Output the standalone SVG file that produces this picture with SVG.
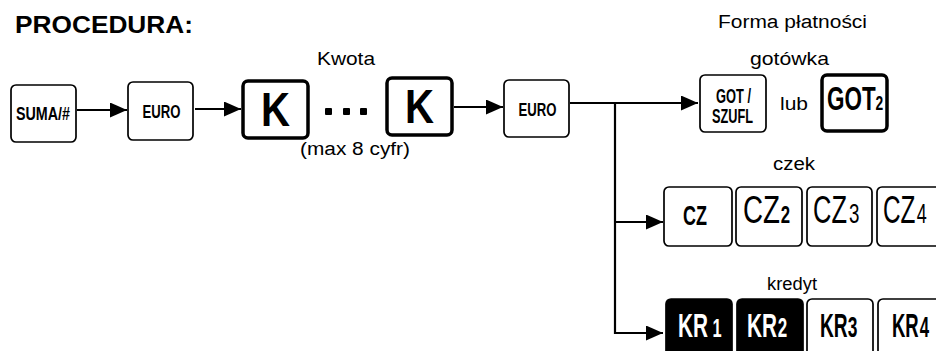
<svg xmlns="http://www.w3.org/2000/svg" width="936" height="351" viewBox="0 0 936 351">
<defs>
<style>
.key{fill:#fff;stroke:#000;stroke-width:1.7}
.thick{fill:#fff;stroke:#000;stroke-width:3.5}
.dark{fill:#000;stroke:#000;stroke-width:1.7}
.kt{font-family:"Liberation Sans",Arial,sans-serif;font-weight:bold;fill:#000}
.kr{font-family:"Liberation Sans",Arial,sans-serif;font-weight:normal;fill:#000}
.wt{font-family:"Liberation Sans",Arial,sans-serif;font-weight:bold;fill:#fff}
.lbl{font-family:"Liberation Sans",Arial,sans-serif;fill:#000}
.ln{fill:none;stroke:#000;stroke-width:2.2}
</style>
<marker id="ah" markerUnits="userSpaceOnUse" markerWidth="17" markerHeight="15" refX="17" refY="7.5" orient="auto">
<path d="M0,0 L17,7.5 L0,15 z" fill="#000"/>
</marker>
</defs>
<rect width="936" height="351" fill="#fff"/>
<text class="lbl" x="15" y="33" font-size="23" font-weight="bold" textLength="178" lengthAdjust="spacingAndGlyphs">PROCEDURA:</text>
<text class="lbl" x="317" y="65" font-size="19" textLength="58" lengthAdjust="spacingAndGlyphs">Kwota</text>
<text class="lbl" x="300" y="155" font-size="18" textLength="110" lengthAdjust="spacingAndGlyphs">(max 8 cyfr)</text>
<text class="lbl" x="718" y="28" font-size="18" textLength="149" lengthAdjust="spacingAndGlyphs">Forma płatności</text>
<text class="lbl" x="750" y="65" font-size="19" textLength="79" lengthAdjust="spacingAndGlyphs">gotówka</text>
<text class="lbl" x="780" y="110" font-size="18" textLength="28" lengthAdjust="spacingAndGlyphs">lub</text>
<text class="lbl" x="773" y="170" font-size="18" textLength="42" lengthAdjust="spacingAndGlyphs">czek</text>
<text class="lbl" x="767" y="290" font-size="18" textLength="50" lengthAdjust="spacingAndGlyphs">kredyt</text>
<g id="connectors">
<line class="ln" x1="77" y1="110" x2="127" y2="110" marker-end="url(#ah)"/>
<line class="ln" x1="195" y1="109" x2="241" y2="109" marker-end="url(#ah)"/>
<line class="ln" x1="454" y1="107" x2="503" y2="107" marker-end="url(#ah)"/>
<line class="ln" x1="570" y1="103" x2="698" y2="103" marker-end="url(#ah)"/>
<polyline class="ln" points="615,103 615,333 663,333" marker-end="url(#ah)"/>
<line class="ln" x1="615" y1="222" x2="663" y2="222" marker-end="url(#ah)"/>
</g>
<g id="dots">
<rect x="325" y="108" width="7" height="7" rx="1"/>
<rect x="343" y="108" width="7" height="7" rx="1"/>
<rect x="360" y="108" width="7" height="7" rx="1"/>
</g>
<g id="suma">
<rect class="key" x="11" y="85" width="65" height="57" rx="5"/>
<text class="kt" x="16" y="119.5" font-size="18" textLength="54" lengthAdjust="spacingAndGlyphs">SUMA/#</text>
</g>
<g id="euro1">
<rect class="key" x="128" y="82" width="65" height="58" rx="5"/>
<text class="kt" x="142.5" y="117.5" font-size="18" textLength="38" lengthAdjust="spacingAndGlyphs">EURO</text>
</g>
<g id="k1">
<rect class="thick" x="243" y="81" width="65" height="57" rx="5"/>
<text class="kt" x="261" y="126" font-size="48" textLength="29" lengthAdjust="spacingAndGlyphs">K</text>
</g>
<g id="k2">
<rect class="thick" x="387" y="78" width="65" height="57" rx="5"/>
<text class="kt" x="405" y="123" font-size="48" textLength="29" lengthAdjust="spacingAndGlyphs">K</text>
</g>
<g id="euro2">
<rect class="key" x="504" y="80" width="65" height="57" rx="5"/>
<text class="kt" x="518.5" y="115.5" font-size="18" textLength="38" lengthAdjust="spacingAndGlyphs">EURO</text>
</g>
<g id="got">
<rect class="key" x="700" y="75" width="66" height="57" rx="5"/>
<text class="kt" font-size="19.5"><tspan x="716" y="103" textLength="35" lengthAdjust="spacingAndGlyphs">GOT /</tspan><tspan x="712" y="123" textLength="41" lengthAdjust="spacingAndGlyphs">SZUFL</tspan></text>
</g>
<g id="got2">
<rect class="thick" x="822" y="75" width="65" height="56" rx="5"/>
<text class="kt" transform="translate(827,110) scale(0.66,1)"><tspan font-size="34">GOT</tspan><tspan font-size="21">2</tspan></text>
</g>
<g id="cz">
<rect class="key" x="664" y="187" width="68" height="59" rx="5"/>
<text class="kt" x="683" y="225" font-size="28" textLength="24" lengthAdjust="spacingAndGlyphs">CZ</text>
</g>
<g id="cz2">
<rect class="key" x="736" y="187" width="66" height="59" rx="5"/>
<text class="kr" transform="translate(743,223) scale(0.73,1)"><tspan font-size="38">CZ</tspan><tspan font-size="23" font-weight="bold" dx="1">2</tspan></text>
</g>
<g id="cz3">
<rect class="key" x="807" y="187" width="65" height="59" rx="5"/>
<text class="kr" transform="translate(813,223) scale(0.67,1)"><tspan font-size="38">CZ</tspan><tspan font-size="28" dx="3">3</tspan></text>
</g>
<g id="cz4">
<rect class="key" x="877" y="187" width="64" height="59" rx="5"/>
<text class="kr" transform="translate(883,223) scale(0.64,1)"><tspan font-size="38">CZ</tspan><tspan font-size="28" dx="2">4</tspan></text>
</g>
<g id="kr1">
<rect class="dark" x="666" y="299" width="66" height="62" rx="5"/>
<text class="wt" transform="translate(678,337) scale(0.63,1)"><tspan font-size="33">KR</tspan><tspan font-size="26" dx="7">1</tspan></text>
</g>
<g id="kr2">
<rect class="dark" x="737" y="299" width="66" height="62" rx="5"/>
<text class="wt" transform="translate(747,337) scale(0.63,1)"><tspan font-size="33">KR</tspan><tspan font-size="27" dx="1">2</tspan></text>
</g>
<g id="kr3">
<rect class="key" x="807" y="299" width="66" height="62" rx="5"/>
<text class="kt" transform="translate(820,337) scale(0.58,1)"><tspan font-size="33">KR</tspan><tspan font-size="30">3</tspan></text>
</g>
<g id="kr4">
<rect class="key" x="878" y="299" width="64" height="62" rx="5"/>
<text class="kt" transform="translate(892,337) scale(0.56,1)"><tspan font-size="33">KR</tspan><tspan font-size="30" dx="2">4</tspan></text>
</g>
</svg>
